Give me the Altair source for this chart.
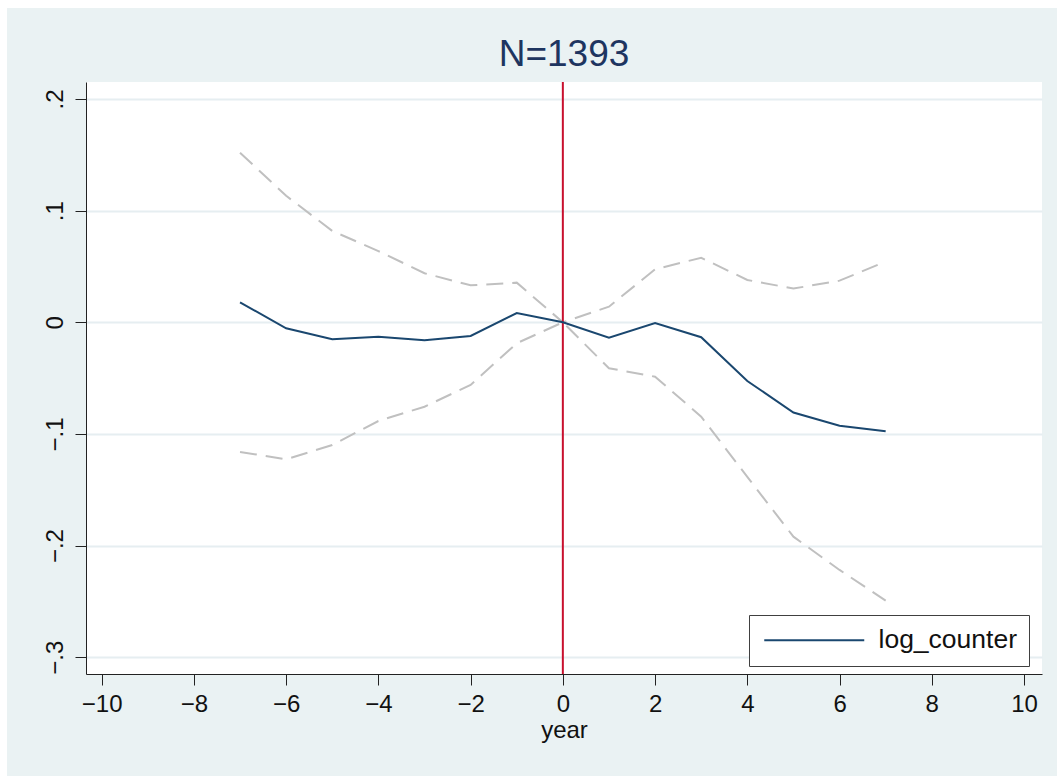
import altair as alt
import pandas as pd

# ---- data ----
years = [-7, -6, -5, -4, -3, -2, -1, 0, 1, 2, 3, 4, 5, 6, 7]
coef = [0.0179, -0.0054, -0.0152, -0.0129, -0.0161, -0.0123, 0.0083, 0.0,
        -0.0138, -0.0006, -0.0134, -0.0526, -0.0808, -0.0926, -0.0976]
upper = [0.1519, 0.1133, 0.0818, 0.0638, 0.0439, 0.0331, 0.0355, 0.0,
         0.0140, 0.0475, 0.0578, 0.0379, 0.0302, 0.0373, 0.0543]
lower = [-0.1161, -0.1227, -0.1099, -0.0884, -0.0756, -0.0561, -0.0188, 0.0,
         -0.0412, -0.0487, -0.0845, -0.1385, -0.1920, -0.2218, -0.2493]
series_name = "log_counter"
title_text = "N=1393"
x_ticks = [-10, -8, -6, -4, -2, 0, 2, 4, 6, 8, 10]
y_ticks = [-0.3, -0.2, -0.1, 0.0, 0.1, 0.2]
event_year = [0]

df = pd.DataFrame({"year": years, "coef": coef, "upper": upper, "lower": lower,
                   "series": [series_name] * len(years)})
ci = pd.DataFrame({
    "year": years + years,
    "val": upper + lower,
    "band": ["upper"] * len(years) + ["lower"] * len(years),
})

W, H = 956, 592
PL, PT, PR, PB = 86, 82, 15, 102
FONT = "Liberation Sans"
BG = "#EAF2F3"

xs = alt.Scale(domain=[-10.34, 10.39], nice=False, zero=False)
ys = alt.Scale(domain=[-0.315, 0.2152], nice=False, zero=False)

one = pd.DataFrame({"a": [0]})
strip_top = alt.Chart(one).mark_rect(color="white", clip=False).encode(
    x=alt.value(-PL), x2=alt.value(W + PR), y=alt.value(-PT), y2=alt.value(-PT + 8))
strip_left = alt.Chart(one).mark_rect(color="white", clip=False).encode(
    x=alt.value(-PL), x2=alt.value(-PL + 7), y=alt.value(-PT), y2=alt.value(H + PB))

base_x = alt.X("year:Q", scale=xs, title="year",
               axis=alt.Axis(values=x_ticks, format="d", grid=False, tickSize=11,
                             labelPadding=7, titlePadding=2))
base_y = alt.Y("val:Q", scale=ys, title=None,
               axis=alt.Axis(values=y_ticks, grid=True, tickSize=11, labelAngle=270,
                             labelAlign="center", labelBaseline="alphabetic",
                             labelPadding=13,
                             labelExpr="datum.value == 0 ? '0' : replace(format(datum.value, '.1f'), '0.', '.')"))

ci_lines = alt.Chart(ci).mark_line(color="#C0C0C0", strokeWidth=2, strokeDash=[17, 9]).encode(
    x=base_x, y=base_y, detail="band:N")

vline = alt.Chart(pd.DataFrame({"year": event_year})).mark_rule(
    color="#C8102E", strokeWidth=2).encode(x=alt.X("year:Q", scale=xs))

main = alt.Chart(df).mark_line(strokeWidth=2).encode(
    x=alt.X("year:Q", scale=xs),
    y=alt.Y("coef:Q", scale=ys),
    color=alt.Color("series:N",
                    scale=alt.Scale(domain=[series_name], range=["#1A476F"]),
                    legend=alt.Legend(title=None, orient="none", legendX=663, legendY=533,
                                      fillColor="white", strokeColor="#404040",
                                      padding=12, symbolType="M-1,0H9", symbolSize=400,
                                      symbolStrokeWidth=2, labelFontSize=26.5,
                                      labelFont=FONT, labelColor="#111", labelOffset=91)),
)

chart = alt.layer(strip_top, strip_left, ci_lines, vline, main).properties(
    width=W, height=H,
    title=alt.Title(title_text, fontSize=37, font=FONT, fontWeight="normal",
                    color="#1E3560", anchor="middle", frame="group", offset=-74),
    autosize=alt.AutoSizeParams(type="none"),
    padding={"left": PL, "top": PT, "right": PR, "bottom": PB},
    background=BG,
).configure_view(fill="white", strokeWidth=0).configure_axis(
    labelFont=FONT, titleFont=FONT, labelFontSize=24, titleFontSize=24,
    labelColor="#111", titleColor="#111", titleFontWeight="normal",
    domainColor="#222", domainWidth=1, tickColor="#222", tickWidth=1,
    gridColor="#E6EEF1", gridWidth=2,
)

chart.save("out.html", embed_options={"renderer": "svg", "actions": False})
